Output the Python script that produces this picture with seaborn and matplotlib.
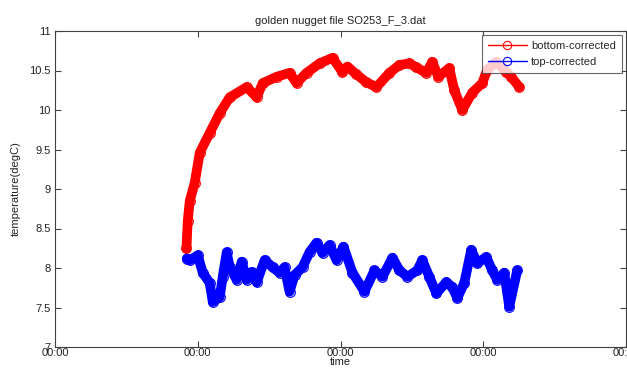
import matplotlib
matplotlib.use("Agg")
import matplotlib.pyplot as plt
import matplotlib.dates as mdates
import seaborn as sns
import pandas as pd
import numpy as np

title = "golden nugget file SO253_F_3.dat"
xlabel = "time"
ylabel = "temperature(degC)"
series_names = ["bottom-corrected", "top-corrected"]

# time in days since start of axis
bottom_t = [0.921, 0.930, 0.944, 0.979, 1.014, 1.084, 1.154, 1.224, 1.343, 1.413,
            1.455, 1.552, 1.643, 1.692, 1.762, 1.853, 1.944, 2.014, 2.049, 2.112,
            2.182, 2.252, 2.343, 2.413, 2.483, 2.531, 2.601, 2.643, 2.685, 2.762,
            2.797, 2.853, 2.923, 2.993, 3.028, 3.091, 3.161, 3.196, 3.252]
bottom_v = [8.25, 8.6, 8.85, 9.08, 9.46, 9.71, 9.96, 10.16, 10.29, 10.16,
            10.34, 10.42, 10.47, 10.34, 10.47, 10.59, 10.66, 10.48, 10.55, 10.45,
            10.35, 10.29, 10.47, 10.57, 10.59, 10.54, 10.47, 10.61, 10.42, 10.53,
            10.25, 10.0, 10.22, 10.34, 10.51, 10.61, 10.48, 10.42, 10.29]
top_t = [0.923, 0.944, 1.000, 1.035, 1.084, 1.105, 1.154, 1.175, 1.203, 1.224,
         1.273, 1.308, 1.343, 1.378, 1.413, 1.469, 1.524, 1.573, 1.608, 1.643,
         1.678, 1.734, 1.783, 1.832, 1.874, 1.923, 1.972, 2.021, 2.084, 2.168,
         2.238, 2.294, 2.364, 2.413, 2.469, 2.538, 2.573, 2.622, 2.671,
         2.741, 2.783, 2.818, 2.867, 2.916, 2.958, 3.021, 3.063, 3.098, 3.147,
         3.182, 3.238]
top_v = [8.12, 8.1, 8.16, 7.94, 7.81, 7.57, 7.63, 7.89, 8.2, 8.01,
         7.85, 8.08, 7.85, 7.95, 7.82, 8.1, 8.01, 7.94, 8.01, 7.7,
         7.91, 8.01, 8.2, 8.32, 8.19, 8.29, 8.1, 8.27, 7.94, 7.7,
         7.97, 7.89, 8.13, 7.97, 7.89, 7.97, 8.1, 7.89, 7.68,
         7.82, 7.76, 7.62, 7.81, 8.23, 8.06, 8.14, 7.97, 7.85, 7.94,
         7.51, 7.97]

base = pd.Timestamp("2016-01-01")
df_b = pd.DataFrame({"time": base + pd.to_timedelta(bottom_t, unit="D"), "temp": bottom_v})
df_t = pd.DataFrame({"time": base + pd.to_timedelta(top_t, unit="D"), "temp": top_v})

sns.set_style("white")
plt.rcParams["font.family"] = ["Liberation Sans", "DejaVu Sans"]

fig = plt.figure(figsize=(6.27, 3.70), dpi=100)
ax = fig.add_axes([55/627, 23/370, 571/627, 316/370])

for df, col, name in [(df_b, "red", series_names[0]), (df_t, "blue", series_names[1])]:
    sns.lineplot(data=df, x="time", y="temp", ax=ax, color=col, sort=False, estimator=None,
                 linewidth=7, marker="o", markersize=7, markerfacecolor="none",
                 markeredgecolor=col, markeredgewidth=0.8, label=name)

ax.set_xlim(base, base + pd.Timedelta(days=4))
ax.set_ylim(7, 11)
ax.set_yticks(np.arange(7, 11.01, 0.5))
ax.set_yticklabels(["7", "7.5", "8", "8.5", "9", "9.5", "10", "10.5", "11"])
ax.xaxis.set_major_locator(mdates.DayLocator())
ax.xaxis.set_major_formatter(mdates.DateFormatter("%H:%M"))

for s in ax.spines.values():
    s.set_visible(True)
    s.set_color("#404040")
    s.set_linewidth(0.8)
ax.tick_params(direction="in", length=4, width=0.8, color="#404040", labelsize=8,
               labelcolor="#222222", top=True, right=True, bottom=True, left=True)
ax.tick_params(axis="x", pad=1)
ax.tick_params(axis="y", pad=3)
ax.set_title(title, fontsize=8, color="#222222", pad=5)
ax.set_xlabel(xlabel, fontsize=8, color="#222222", labelpad=-1)
ax.set_ylabel(ylabel, fontsize=8, color="#222222", labelpad=6)

leg = ax.legend(loc="upper right", fontsize=8, frameon=True, fancybox=False,
                edgecolor="#404040", borderaxespad=0.4, handlelength=3.5,
                borderpad=0.5, labelspacing=0.55, handletextpad=0.4)
leg.get_frame().set_linewidth(0.8)
for h in leg.legend_handles:
    h.set_linewidth(1)
    h.set_markersize(6)

fig.savefig("out.png", dpi=100)
